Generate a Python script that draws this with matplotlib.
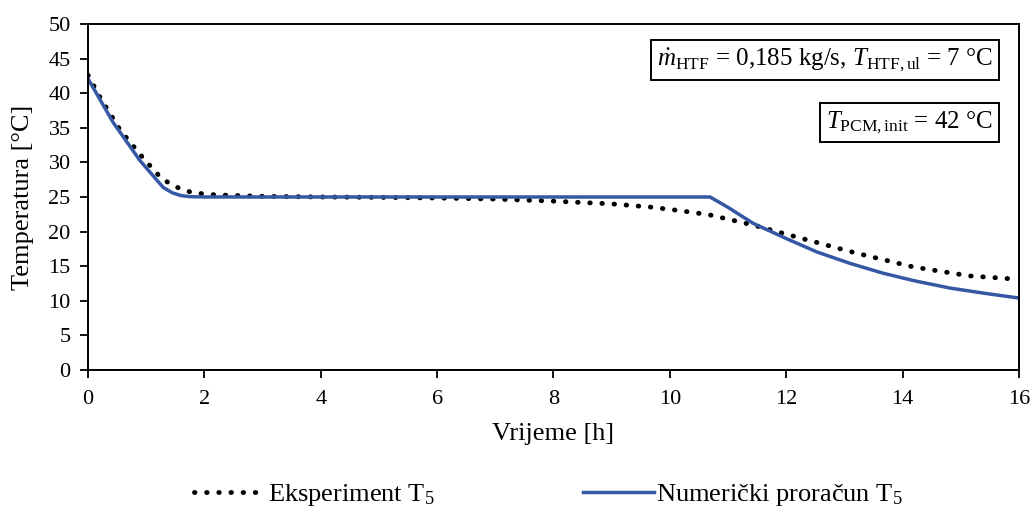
"""Temperature T5: experiment vs numerical calculation."""

import matplotlib
matplotlib.use("Agg")
import matplotlib.pyplot as plt

# Experiment T5 (dotted)
t_exp = [0, 0.2, 0.55, 0.95, 1.24, 1.41, 1.61, 1.81, 2.2, 3, 4, 5, 6, 7, 8,
         9, 9.66, 10.2, 10.69, 11.43, 12.23, 13.2, 14.18, 15.15, 16]
T_exp = [42.6, 39.5, 34.7, 30.6, 27.9, 26.9, 26.1, 25.6, 25.3, 25.1, 25.0,
         24.95, 24.85, 24.7, 24.4, 24.0, 23.55, 23.0, 22.4, 20.95, 19.1, 16.9,
         14.9, 13.6, 13.1]

# Numerical calculation T5 (solid)
t_num = [0, 0.43, 0.89, 1.29, 1.45, 1.6, 1.75, 2, 4, 6, 8, 10, 10.69, 11.0,
         11.43, 12.0, 12.53, 13.1, 13.66, 14.2, 14.81, 15.4, 16]
T_num = [42.1, 35.8, 30.3, 26.4, 25.6, 25.2, 25.05, 25.0, 25.0, 25.0, 25.0,
         25.0, 25.0, 23.5, 21.2, 19.0, 17.05, 15.4, 14.0, 12.9, 11.85, 11.1,
         10.4]

x_ticks = list(range(0, 17, 2))
y_ticks = list(range(0, 51, 5))

plt.rcParams.update({
    "font.family": "Liberation Serif",
    "font.size": 16,
    "mathtext.fontset": "custom",
    "mathtext.rm": "Liberation Serif",
    "mathtext.it": "Liberation Serif:italic",
    "mathtext.bf": "Liberation Serif:bold",
})

fig, ax = plt.subplots(figsize=(10.35, 5.09), dpi=100)
fig.subplots_adjust(left=0.085, right=0.9845, top=0.953, bottom=0.273)

ax.plot(t_exp, T_exp, color="black", lw=3.5, linestyle=(0, (0.1, 2.4)),
        dash_capstyle="round", label="Eksperiment T$_5$")
ax.plot(t_num, T_num, color="#3558A5", lw=2.5, label="Numerički proračun T$_5$")

ax.set_xlim(0, 16)
ax.set_ylim(0, 50)
ax.set_xticks(x_ticks)
ax.set_yticks(y_ticks)
ax.tick_params(direction="out", length=5.5, width=1.3, labelsize=16)
ax.tick_params(axis="y", pad=7)
ax.tick_params(axis="x", pad=9)
for s in ax.spines.values():
    s.set_linewidth(1.4)

ax.set_xlabel("Vrijeme [h]", fontsize=19, labelpad=10)
ax.set_ylabel("Temperatura [°C]", fontsize=19, labelpad=10)

box = dict(boxstyle="square,pad=0.25", facecolor="white", edgecolor="black", lw=1.4)
ax.text(0.972, 0.895, r"$\dot{m}_{\mathrm{HTF}}$ = 0,185 kg/s, $T_{\mathrm{HTF,ul}}$ = 7 °C",
        transform=ax.transAxes, ha="right", va="center", fontsize=18, bbox=box)
ax.text(0.972, 0.715, r"$T_{\mathrm{PCM,init}}$ = 42 °C",
        transform=ax.transAxes, ha="right", va="center", fontsize=18, bbox=box)

fig.legend(loc="lower center", bbox_to_anchor=(0.53, -0.045), ncol=2, frameon=False,
           fontsize=19, handlelength=2.7, columnspacing=5.6, handletextpad=0.1)

fig.savefig("out.png", dpi=100)
